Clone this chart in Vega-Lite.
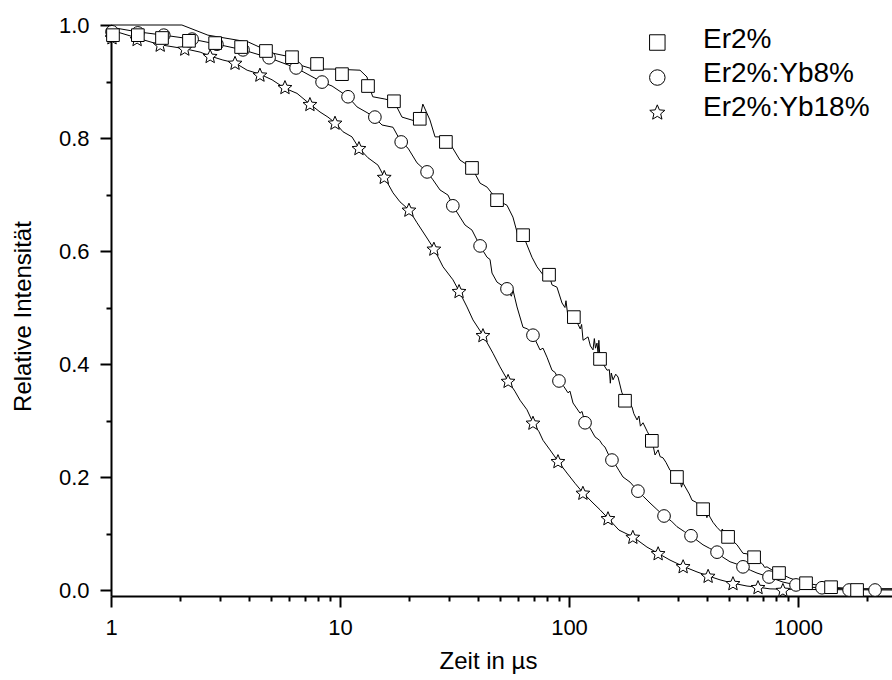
{
  "$schema": "https://vega.github.io/schema/vega-lite/v6.json",
  "width": 781,
  "height": 571,
  "autosize": {"type": "none"},
  "padding": {"left": 111, "top": 25, "right": 0, "bottom": 84},
  "background": "white",
  "config": {
    "view": {"stroke": null},
    "font": "Liberation Sans",
    "axis": {
      "domainColor": "black", "domainWidth": 2, "tickColor": "black", "tickWidth": 2,
      "labelColor": "black", "labelFont": "Liberation Sans", "labelFontSize": 22,
      "titleColor": "black", "titleFont": "Liberation Sans", "titleFontSize": 24, "titleFontWeight": "normal",
      "grid": false
    },
    "legend": {
      "symbolFillColor": "transparent",
      "symbolStrokeColor": "transparent",
      "symbolStrokeWidth": 0,
      "symbolOpacity": 0
    }
  },
  "datasets": {
    "lines": [
      {"s":"Er2%","t":1,"v":1.0},{"s":"Er2%","t":2.04,"v":1.0},{"s":"Er2%","t":2.65,"v":0.982},{"s":"Er2%","t":3.97,"v":0.970},{"s":"Er2%","t":5.10,"v":0.950},{"s":"Er2%","t":6.17,"v":0.943},{"s":"Er2%","t":6.69,"v":0.929},{"s":"Er2%","t":7.62,"v":0.922},{"s":"Er2%","t":9.32,"v":0.922},{"s":"Er2%","t":12.23,"v":0.920},{"s":"Er2%","t":13.12,"v":0.908},{"s":"Er2%","t":13.39,"v":0.892},{"s":"Er2%","t":13.9,"v":0.873},{"s":"Er2%","t":15.7,"v":0.869},{"s":"Er2%","t":17.2,"v":0.865},{"s":"Er2%","t":18.65,"v":0.837},{"s":"Er2%","t":21.3,"v":0.830},{"s":"Er2%","t":22.3,"v":0.834},{"s":"Er2%","t":23.0,"v":0.860},{"s":"Er2%","t":24.7,"v":0.832},{"s":"Er2%","t":26.0,"v":0.802},{"s":"Er2%","t":29.0,"v":0.802},{"s":"Er2%","t":33.4,"v":0.761},{"s":"Er2%","t":37.7,"v":0.747},{"s":"Er2%","t":40.9,"v":0.720},{"s":"Er2%","t":43.9,"v":0.713},{"s":"Er2%","t":48.5,"v":0.690},{"s":"Er2%","t":53.6,"v":0.681},{"s":"Er2%","t":56.9,"v":0.660},{"s":"Er2%","t":59.8,"v":0.628},{"s":"Er2%","t":63.0,"v":0.628},{"s":"Er2%","t":68.9,"v":0.589},{"s":"Er2%","t":72.5,"v":0.572},{"s":"Er2%","t":77.0,"v":0.558},{"s":"Er2%","t":81.8,"v":0.558},{"s":"Er2%","t":84.3,"v":0.540},{"s":"Er2%","t":88.6,"v":0.536},{"s":"Er2%","t":93.2,"v":0.508},{"s":"Er2%","t":96,"v":0.500},{"s":"Er2%","t":97,"v":0.512},{"s":"Er2%","t":99.0,"v":0.483},{"s":"Er2%","t":105.2,"v":0.483},{"s":"Er2%","t":108.4,"v":0.474},{"s":"Er2%","t":112,"v":0.462},{"s":"Er2%","t":113.5,"v":0.470},{"s":"Er2%","t":115.2,"v":0.442},{"s":"Er2%","t":121.1,"v":0.448},{"s":"Er2%","t":124,"v":0.432},{"s":"Er2%","t":127.3,"v":0.425},{"s":"Er2%","t":129,"v":0.445},{"s":"Er2%","t":130.5,"v":0.428},{"s":"Er2%","t":132.5,"v":0.437},{"s":"Er2%","t":134,"v":0.418},{"s":"Er2%","t":135,"v":0.442},{"s":"Er2%","t":136.6,"v":0.409},{"s":"Er2%","t":141,"v":0.400},{"s":"Er2%","t":146.6,"v":0.389},{"s":"Er2%","t":150,"v":0.390},{"s":"Er2%","t":151.5,"v":0.366},{"s":"Er2%","t":153,"v":0.384},{"s":"Er2%","t":155.7,"v":0.372},{"s":"Er2%","t":160,"v":0.382},{"s":"Er2%","t":163.7,"v":0.377},{"s":"Er2%","t":170,"v":0.350},{"s":"Er2%","t":175.6,"v":0.336},{"s":"Er2%","t":181,"v":0.332},{"s":"Er2%","t":188.4,"v":0.324},{"s":"Er2%","t":192,"v":0.312},{"s":"Er2%","t":198.2,"v":0.301},{"s":"Er2%","t":202,"v":0.308},{"s":"Er2%","t":205,"v":0.290},{"s":"Er2%","t":210.5,"v":0.296},{"s":"Er2%","t":220,"v":0.280},{"s":"Er2%","t":230.4,"v":0.265},{"s":"Er2%","t":237.5,"v":0.239},{"s":"Er2%","t":245,"v":0.248},{"s":"Er2%","t":250,"v":0.236},{"s":"Er2%","t":257.3,"v":0.234},{"s":"Er2%","t":265,"v":0.226},{"s":"Er2%","t":276.1,"v":0.212},{"s":"Er2%","t":285,"v":0.208},{"s":"Er2%","t":295.8,"v":0.200},{"s":"Er2%","t":305,"v":0.196},{"s":"Er2%","t":310,"v":0.182},{"s":"Er2%","t":314,"v":0.190},{"s":"Er2%","t":327.5,"v":0.177},{"s":"Er2%","t":335,"v":0.170},{"s":"Er2%","t":344.5,"v":0.159},{"s":"Er2%","t":360,"v":0.155},{"s":"Er2%","t":372,"v":0.148},{"s":"Er2%","t":384.8,"v":0.143},{"s":"Er2%","t":395,"v":0.140},{"s":"Er2%","t":400,"v":0.128},{"s":"Er2%","t":405,"v":0.136},{"s":"Er2%","t":412.8,"v":0.129},{"s":"Er2%","t":425,"v":0.120},{"s":"Er2%","t":442.6,"v":0.111},{"s":"Er2%","t":460,"v":0.104},{"s":"Er2%","t":468,"v":0.108},{"s":"Er2%","t":473,"v":0.095},{"s":"Er2%","t":495,"v":0.094},{"s":"Er2%","t":515,"v":0.088},{"s":"Er2%","t":541.6,"v":0.080},{"s":"Er2%","t":575,"v":0.065},{"s":"Er2%","t":600,"v":0.064},{"s":"Er2%","t":610,"v":0.056},{"s":"Er2%","t":625,"v":0.062},{"s":"Er2%","t":643,"v":0.058},{"s":"Er2%","t":680,"v":0.050},{"s":"Er2%","t":700,"v":0.046},{"s":"Er2%","t":715,"v":0.040},{"s":"Er2%","t":732,"v":0.041},{"s":"Er2%","t":780,"v":0.034},{"s":"Er2%","t":826,"v":0.030},{"s":"Er2%","t":922,"v":0.021},{"s":"Er2%","t":1000,"v":0.016},{"s":"Er2%","t":1084,"v":0.012},{"s":"Er2%","t":1250,"v":0.008},{"s":"Er2%","t":1394,"v":0.005},{"s":"Er2%","t":1811,"v":0.002},{"s":"Er2%","t":2573,"v":0.002},
      {"s":"Er2%:Yb8%","t":1,"v":0.996},{"s":"Er2%:Yb8%","t":1.30,"v":0.988},{"s":"Er2%:Yb8%","t":1.70,"v":0.982},{"s":"Er2%:Yb8%","t":2.26,"v":0.975},{"s":"Er2%:Yb8%","t":2.90,"v":0.966},{"s":"Er2%:Yb8%","t":3.77,"v":0.956},{"s":"Er2%:Yb8%","t":4.90,"v":0.942},{"s":"Er2%:Yb8%","t":6.43,"v":0.924},{"s":"Er2%:Yb8%","t":8.35,"v":0.899},{"s":"Er2%:Yb8%","t":9.23,"v":0.892},{"s":"Er2%:Yb8%","t":10.84,"v":0.873},{"s":"Er2%:Yb8%","t":11.87,"v":0.855},{"s":"Er2%:Yb8%","t":13.25,"v":0.844},{"s":"Er2%:Yb8%","t":14.08,"v":0.837},{"s":"Er2%:Yb8%","t":15.26,"v":0.823},{"s":"Er2%:Yb8%","t":17.04,"v":0.819},{"s":"Er2%:Yb8%","t":18.47,"v":0.793},{"s":"Er2%:Yb8%","t":19.82,"v":0.782},{"s":"Er2%:Yb8%","t":21.69,"v":0.756},{"s":"Er2%:Yb8%","t":23.98,"v":0.740},{"s":"Er2%:Yb8%","t":25.47,"v":0.726},{"s":"Er2%:Yb8%","t":27.34,"v":0.708},{"s":"Er2%:Yb8%","t":29.62,"v":0.699},{"s":"Er2%:Yb8%","t":31.14,"v":0.680},{"s":"Er2%:Yb8%","t":33.42,"v":0.660},{"s":"Er2%:Yb8%","t":35.15,"v":0.646},{"s":"Er2%:Yb8%","t":37.71,"v":0.637},{"s":"Er2%:Yb8%","t":40.87,"v":0.609},{"s":"Er2%:Yb8%","t":43.85,"v":0.589},{"s":"Er2%:Yb8%","t":45.2,"v":0.585},{"s":"Er2%:Yb8%","t":46.11,"v":0.561},{"s":"Er2%:Yb8%","t":48.48,"v":0.545},{"s":"Er2%:Yb8%","t":53.61,"v":0.533},{"s":"Er2%:Yb8%","t":56,"v":0.520},{"s":"Er2%:Yb8%","t":57,"v":0.530},{"s":"Er2%:Yb8%","t":59.29,"v":0.501},{"s":"Er2%:Yb8%","t":62.96,"v":0.465},{"s":"Er2%:Yb8%","t":66,"v":0.462},{"s":"Er2%:Yb8%","t":69.64,"v":0.451},{"s":"Er2%:Yb8%","t":74.70,"v":0.425},{"s":"Er2%:Yb8%","t":77,"v":0.428},{"s":"Er2%:Yb8%","t":80.16,"v":0.412},{"s":"Er2%:Yb8%","t":84.29,"v":0.389},{"s":"Er2%:Yb8%","t":87,"v":0.385},{"s":"Er2%:Yb8%","t":90.43,"v":0.370},{"s":"Er2%:Yb8%","t":95,"v":0.360},{"s":"Er2%:Yb8%","t":99.0,"v":0.349},{"s":"Er2%:Yb8%","t":101,"v":0.352},{"s":"Er2%:Yb8%","t":104.1,"v":0.331},{"s":"Er2%:Yb8%","t":111.7,"v":0.313},{"s":"Er2%:Yb8%","t":114,"v":0.316},{"s":"Er2%:Yb8%","t":117.5,"v":0.296},{"s":"Er2%:Yb8%","t":123,"v":0.288},{"s":"Er2%:Yb8%","t":129.9,"v":0.271},{"s":"Er2%:Yb8%","t":136,"v":0.265},{"s":"Er2%:Yb8%","t":140,"v":0.257},{"s":"Er2%:Yb8%","t":143.6,"v":0.253},{"s":"Er2%:Yb8%","t":152.6,"v":0.230},{"s":"Er2%:Yb8%","t":160,"v":0.221},{"s":"Er2%:Yb8%","t":165,"v":0.212},{"s":"Er2%:Yb8%","t":172.1,"v":0.200},{"s":"Er2%:Yb8%","t":184.7,"v":0.191},{"s":"Er2%:Yb8%","t":200.1,"v":0.175},{"s":"Er2%:Yb8%","t":212,"v":0.165},{"s":"Er2%:Yb8%","t":225.8,"v":0.154},{"s":"Er2%:Yb8%","t":240,"v":0.144},{"s":"Er2%:Yb8%","t":259.9,"v":0.131},{"s":"Er2%:Yb8%","t":280,"v":0.122},{"s":"Er2%:Yb8%","t":296.2,"v":0.112},{"s":"Er2%:Yb8%","t":320,"v":0.103},{"s":"Er2%:Yb8%","t":341.0,"v":0.096},{"s":"Er2%:Yb8%","t":362,"v":0.088},{"s":"Er2%:Yb8%","t":384.8,"v":0.080},{"s":"Er2%:Yb8%","t":410,"v":0.074},{"s":"Er2%:Yb8%","t":442.9,"v":0.067},{"s":"Er2%:Yb8%","t":470,"v":0.058},{"s":"Er2%:Yb8%","t":504.8,"v":0.050},{"s":"Er2%:Yb8%","t":540,"v":0.046},{"s":"Er2%:Yb8%","t":575.3,"v":0.041},{"s":"Er2%:Yb8%","t":620,"v":0.035},{"s":"Er2%:Yb8%","t":662.2,"v":0.030},{"s":"Er2%:Yb8%","t":747.2,"v":0.023},{"s":"Er2%:Yb8%","t":860.4,"v":0.014},{"s":"Er2%:Yb8%","t":980.2,"v":0.009},{"s":"Er2%:Yb8%","t":1128,"v":0.005},{"s":"Er2%:Yb8%","t":1400,"v":0.003},{"s":"Er2%:Yb8%","t":1670,"v":0.002},{"s":"Er2%:Yb8%","t":2573,"v":0.002},
      {"s":"Er2%:Yb18%","t":1,"v":0.991},{"s":"Er2%:Yb18%","t":1.30,"v":0.977},{"s":"Er2%:Yb18%","t":1.64,"v":0.965},{"s":"Er2%:Yb18%","t":2.10,"v":0.958},{"s":"Er2%:Yb18%","t":2.45,"v":0.952},{"s":"Er2%:Yb18%","t":2.71,"v":0.945},{"s":"Er2%:Yb18%","t":3.08,"v":0.938},{"s":"Er2%:Yb18%","t":3.48,"v":0.933},{"s":"Er2%:Yb18%","t":3.93,"v":0.920},{"s":"Er2%:Yb18%","t":4.47,"v":0.913},{"s":"Er2%:Yb18%","t":5.05,"v":0.903},{"s":"Er2%:Yb18%","t":5.75,"v":0.888},{"s":"Er2%:Yb18%","t":6.49,"v":0.879},{"s":"Er2%:Yb18%","t":7.39,"v":0.860},{"s":"Er2%:Yb18%","t":8.18,"v":0.846},{"s":"Er2%:Yb18%","t":8.86,"v":0.837},{"s":"Er2%:Yb18%","t":9.51,"v":0.827},{"s":"Er2%:Yb18%","t":10.31,"v":0.811},{"s":"Er2%:Yb18%","t":11.28,"v":0.802},{"s":"Er2%:Yb18%","t":12.1,"v":0.782},{"s":"Er2%:Yb18%","t":13.25,"v":0.765},{"s":"Er2%:Yb18%","t":14.65,"v":0.752},{"s":"Er2%:Yb18%","t":15.6,"v":0.731},{"s":"Er2%:Yb18%","t":17.04,"v":0.703},{"s":"Er2%:Yb18%","t":18.28,"v":0.687},{"s":"Er2%:Yb18%","t":20.0,"v":0.673},{"s":"Er2%:Yb18%","t":21.69,"v":0.650},{"s":"Er2%:Yb18%","t":23.98,"v":0.623},{"s":"Er2%:Yb18%","t":25.7,"v":0.604},{"s":"Er2%:Yb18%","t":28.18,"v":0.572},{"s":"Er2%:Yb18%","t":31.14,"v":0.549},{"s":"Er2%:Yb18%","t":33.1,"v":0.529},{"s":"Er2%:Yb18%","t":35.86,"v":0.501},{"s":"Er2%:Yb18%","t":38.08,"v":0.478},{"s":"Er2%:Yb18%","t":42.1,"v":0.451},{"s":"Er2%:Yb18%","t":46.57,"v":0.419},{"s":"Er2%:Yb18%","t":49.96,"v":0.395},{"s":"Er2%:Yb18%","t":54.16,"v":0.370},{"s":"Er2%:Yb18%","t":58,"v":0.352},{"s":"Er2%:Yb18%","t":61.09,"v":0.336},{"s":"Er2%:Yb18%","t":65.55,"v":0.319},{"s":"Er2%:Yb18%","t":69.64,"v":0.296},{"s":"Er2%:Yb18%","t":74,"v":0.280},{"s":"Er2%:Yb18%","t":77.0,"v":0.265},{"s":"Er2%:Yb18%","t":82.6,"v":0.248},{"s":"Er2%:Yb18%","t":89.53,"v":0.228},{"s":"Er2%:Yb18%","t":98.0,"v":0.207},{"s":"Er2%:Yb18%","t":106.2,"v":0.189},{"s":"Er2%:Yb18%","t":115.1,"v":0.172},{"s":"Er2%:Yb18%","t":127.3,"v":0.154},{"s":"Er2%:Yb18%","t":136.6,"v":0.142},{"s":"Er2%:Yb18%","t":148.0,"v":0.127},{"s":"Er2%:Yb18%","t":165.3,"v":0.106},{"s":"Er2%:Yb18%","t":190.3,"v":0.094},{"s":"Er2%:Yb18%","t":219.0,"v":0.076},{"s":"Er2%:Yb18%","t":244.7,"v":0.065},{"s":"Er2%:Yb18%","t":276.1,"v":0.053},{"s":"Er2%:Yb18%","t":314.6,"v":0.042},{"s":"Er2%:Yb18%","t":362.2,"v":0.032},{"s":"Er2%:Yb18%","t":404.6,"v":0.025},{"s":"Er2%:Yb18%","t":456.4,"v":0.018},{"s":"Er2%:Yb18%","t":520.3,"v":0.012},{"s":"Er2%:Yb18%","t":598.9,"v":0.007},{"s":"Er2%:Yb18%","t":668.9,"v":0.005},{"s":"Er2%:Yb18%","t":754.7,"v":0.002},{"s":"Er2%:Yb18%","t":1000,"v":0.001},{"s":"Er2%:Yb18%","t":2573,"v":0.0}
    ],
    "pts": [
      {"s":"Er2%:Yb18%","t":1.01,"v":0.978},{"s":"Er2%:Yb18%","t":1.30,"v":0.975},{"s":"Er2%:Yb18%","t":1.64,"v":0.965},{"s":"Er2%:Yb18%","t":2.10,"v":0.958},{"s":"Er2%:Yb18%","t":2.71,"v":0.945},{"s":"Er2%:Yb18%","t":3.48,"v":0.933},{"s":"Er2%:Yb18%","t":4.47,"v":0.912},{"s":"Er2%:Yb18%","t":5.75,"v":0.890},{"s":"Er2%:Yb18%","t":7.39,"v":0.860},{"s":"Er2%:Yb18%","t":9.51,"v":0.827},{"s":"Er2%:Yb18%","t":12.1,"v":0.782},{"s":"Er2%:Yb18%","t":15.6,"v":0.731},{"s":"Er2%:Yb18%","t":20.0,"v":0.673},{"s":"Er2%:Yb18%","t":25.7,"v":0.604},{"s":"Er2%:Yb18%","t":33.1,"v":0.529},{"s":"Er2%:Yb18%","t":42.1,"v":0.451},{"s":"Er2%:Yb18%","t":54.2,"v":0.370},{"s":"Er2%:Yb18%","t":69.6,"v":0.296},{"s":"Er2%:Yb18%","t":89.5,"v":0.228},{"s":"Er2%:Yb18%","t":115,"v":0.172},{"s":"Er2%:Yb18%","t":148,"v":0.127},{"s":"Er2%:Yb18%","t":190,"v":0.094},{"s":"Er2%:Yb18%","t":245,"v":0.065},{"s":"Er2%:Yb18%","t":315,"v":0.042},{"s":"Er2%:Yb18%","t":405,"v":0.025},{"s":"Er2%:Yb18%","t":520,"v":0.012},{"s":"Er2%:Yb18%","t":669,"v":0.005},{"s":"Er2%:Yb18%","t":859,"v":0.0},
      {"s":"Er2%:Yb8%","t":1.01,"v":0.988},{"s":"Er2%:Yb8%","t":1.31,"v":0.986},{"s":"Er2%:Yb8%","t":1.70,"v":0.982},{"s":"Er2%:Yb8%","t":2.26,"v":0.975},{"s":"Er2%:Yb8%","t":2.90,"v":0.966},{"s":"Er2%:Yb8%","t":3.77,"v":0.956},{"s":"Er2%:Yb8%","t":4.90,"v":0.942},{"s":"Er2%:Yb8%","t":6.43,"v":0.924},{"s":"Er2%:Yb8%","t":8.35,"v":0.899},{"s":"Er2%:Yb8%","t":10.84,"v":0.873},{"s":"Er2%:Yb8%","t":14.2,"v":0.837},{"s":"Er2%:Yb8%","t":18.5,"v":0.793},{"s":"Er2%:Yb8%","t":24.0,"v":0.740},{"s":"Er2%:Yb8%","t":31.1,"v":0.680},{"s":"Er2%:Yb8%","t":40.9,"v":0.609},{"s":"Er2%:Yb8%","t":53.6,"v":0.533},{"s":"Er2%:Yb8%","t":69.6,"v":0.451},{"s":"Er2%:Yb8%","t":90.4,"v":0.370},{"s":"Er2%:Yb8%","t":117.5,"v":0.296},{"s":"Er2%:Yb8%","t":154,"v":0.230},{"s":"Er2%:Yb8%","t":200,"v":0.175},{"s":"Er2%:Yb8%","t":260,"v":0.131},{"s":"Er2%:Yb8%","t":341,"v":0.096},{"s":"Er2%:Yb8%","t":443,"v":0.067},{"s":"Er2%:Yb8%","t":575,"v":0.041},{"s":"Er2%:Yb8%","t":747,"v":0.023},{"s":"Er2%:Yb8%","t":980,"v":0.009},{"s":"Er2%:Yb8%","t":1273,"v":0.004},{"s":"Er2%:Yb8%","t":1671,"v":0.0},{"s":"Er2%:Yb8%","t":2170,"v":0.0},
      {"s":"Er2%","t":1.02,"v":0.982},{"s":"Er2%","t":1.31,"v":0.982},{"s":"Er2%","t":1.67,"v":0.977},{"s":"Er2%","t":2.19,"v":0.972},{"s":"Er2%","t":2.85,"v":0.968},{"s":"Er2%","t":3.70,"v":0.961},{"s":"Er2%","t":4.75,"v":0.954},{"s":"Er2%","t":6.17,"v":0.943},{"s":"Er2%","t":7.94,"v":0.931},{"s":"Er2%","t":10.2,"v":0.913},{"s":"Er2%","t":13.25,"v":0.892},{"s":"Er2%","t":17.2,"v":0.865},{"s":"Er2%","t":22.3,"v":0.834},{"s":"Er2%","t":29.0,"v":0.793},{"s":"Er2%","t":37.7,"v":0.747},{"s":"Er2%","t":48.5,"v":0.690},{"s":"Er2%","t":63.0,"v":0.628},{"s":"Er2%","t":81.8,"v":0.558},{"s":"Er2%","t":105,"v":0.483},{"s":"Er2%","t":136.6,"v":0.409},{"s":"Er2%","t":175.6,"v":0.335},{"s":"Er2%","t":230,"v":0.264},{"s":"Er2%","t":296,"v":0.200},{"s":"Er2%","t":385,"v":0.143},{"s":"Er2%","t":495,"v":0.094},{"s":"Er2%","t":643,"v":0.058},{"s":"Er2%","t":826,"v":0.030},{"s":"Er2%","t":1084,"v":0.012},{"s":"Er2%","t":1394,"v":0.005},{"s":"Er2%","t":1811,"v":0.0}
    ]
  },
  "resolve": {"axis": {"x": "independent", "y": "independent"}},
  "layer": [
    {
      "data": {"name": "lines"},
      "mark": {"type": "line", "stroke": "black", "strokeWidth": 1},
      "encoding": {
        "x": {
          "field": "t", "type": "quantitative",
          "scale": {"type": "log", "domain": [1, 2573], "nice": false},
          "axis": {
            "orient": "bottom",
            "title": "Zeit in µs",
            "values": [1, 10, 100, 1000],
            "format": "d",
            "tickSize": 11,
            "labelPadding": 10,
            "labelFlush": false,
            "labelOverlap": false,
            "titleX": 377,
            "titleY": 72,
            "titleBaseline": "alphabetic"
          }
        },
        "y": {
          "field": "v", "type": "quantitative",
          "scale": {"domain": [-0.0106, 1.0], "nice": false, "zero": false},
          "axis": {
            "orient": "left",
            "title": "Relative Intensität",
            "values": [0, 0.2, 0.4, 0.6, 0.8, 1.0],
            "format": ".1f",
            "tickSize": 11,
            "labelPadding": 11,
            "labelFlush": false,
            "labelOverlap": false,
            "titleX": -81,
            "titleY": 291,
            "titleBaseline": "alphabetic"
          }
        },
        "detail": {"field": "s"}
      }
    },
    {
      "data": {"name": "pts"},
      "mark": {"type": "point", "filled": false, "fill": "white", "fillOpacity": 1, "stroke": "black", "color": "black", "strokeWidth": 1, "opacity": 1, "size": 160},
      "encoding": {
        "x": {
          "field": "t", "type": "quantitative",
          "axis": {
            "orient": "bottom",
            "title": null,
            "values": [2,3,4,5,6,7,8,9,20,30,40,50,60,70,80,90,200,300,400,500,600,700,800,900,2000],
            "labels": false,
            "domain": false,
            "tickSize": 5
          }
        },
        "y": {
          "field": "v", "type": "quantitative",
          "axis": {
            "orient": "left",
            "title": null,
            "values": [0.1, 0.3, 0.5, 0.7, 0.9],
            "labels": false,
            "domain": false,
            "tickSize": 5
          }
        },
        "shape": {
          "field": "s", "type": "nominal",
          "scale": {"domain": ["Er2%", "Er2%:Yb8%", "Er2%:Yb18%"], "range": ["square", "circle", "M0,-1.04L0.304,-0.309L1.094,-0.246L0.492,0.269L0.676,1.04L0,0.627L-0.676,1.04L-0.492,0.269L-1.094,-0.246L-0.304,-0.309Z"]},
          "legend": {
            "title": null,
            "orient": "none",
            "legendX": 538,
            "legendY": 1,
            "symbolSize": 240,
            "symbolOpacity": 0,
            "symbolFillColor": "transparent",
            "symbolStrokeColor": "transparent",
            "labelFont": "Liberation Sans",
            "labelFontSize": 28,
            "labelColor": "black",
            "labelOffset": 26,
            "rowPadding": 6,
            "labelLimit": 400
          }
        }
      }
    },
    {
      "data": {"values": [{"s": "Er2%"}]},
      "mark": {"type": "point", "filled": false, "fill": "white", "fillOpacity": 1, "stroke": "black", "color": "black", "strokeWidth": 1, "opacity": 1, "size": 240},
      "encoding": {
        "x": {"datum": 243, "type": "quantitative", "axis": null},
        "y": {"datum": 0.969, "type": "quantitative", "axis": null},
        "shape": {"field": "s", "type": "nominal"}
      }
    },
    {
      "data": {"values": [{"s": "Er2%:Yb8%"}]},
      "mark": {"type": "point", "filled": false, "fill": "white", "fillOpacity": 1, "stroke": "black", "color": "black", "strokeWidth": 1, "opacity": 1, "size": 240},
      "encoding": {
        "x": {"datum": 243, "type": "quantitative", "axis": null},
        "y": {"datum": 0.907, "type": "quantitative", "axis": null},
        "shape": {"field": "s", "type": "nominal"}
      }
    },
    {
      "data": {"values": [{"s": "Er2%:Yb18%"}]},
      "mark": {"type": "point", "filled": false, "fill": "white", "fillOpacity": 1, "stroke": "black", "color": "black", "strokeWidth": 1, "opacity": 1, "size": 190},
      "encoding": {
        "x": {"datum": 243, "type": "quantitative", "axis": null},
        "y": {"datum": 0.846, "type": "quantitative", "axis": null},
        "shape": {"field": "s", "type": "nominal"}
      }
    }
  ]
}
